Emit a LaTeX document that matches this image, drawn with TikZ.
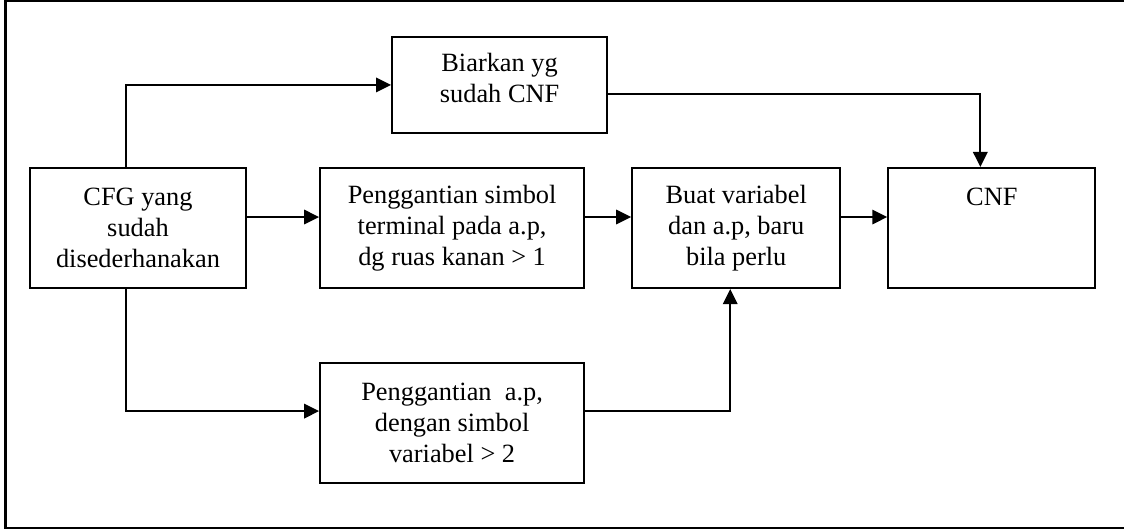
\documentclass[tikz,border=0pt]{standalone}
\usepackage{fontspec}
\setmainfont{Liberation Serif}
\usetikzlibrary{arrows.meta,positioning}

\begin{document}
\begin{tikzpicture}[
 node distance=0.92cm and 0.92cm,
 every node/.style={font=\fontsize{15}{17.6}\selectfont,align=center},
 box/.style={draw,line width=1.2pt,minimum height=2.4cm,inner sep=2pt},
 arrow/.style={-{Triangle[length=0.3cm,width=0.29cm]},line width=1pt}
]
\useasboundingbox (-2.76,-6.02) rectangle (19.72,4.56);
% frame, its right side lies past the page
\draw[line width=1.3pt] (20.2,4.54) -- (-2.65,4.54) -- (-2.65,-6.0) -- (20.2,-6.0);
\node[box,minimum width=4.32cm] (cfg) {CFG yang\\sudah\\disederhanakan};
\node[box,minimum width=5.28cm,right=1.44cm of cfg] (term) {Penggantian simbol\\terminal pada a.p,\\dg ruas kanan > 1};
\node[box,minimum width=4.16cm,right=of term] (buat) {Buat variabel\\dan a.p, baru\\bila perlu};
\node[box,minimum width=4.14cm,right=of buat] (cnf) {CNF\\~\\~};
\node[box,minimum width=4.3cm,minimum height=1.92cm,text depth=0.3cm,above=0.66cm of term,xshift=0.95cm] (biar) {Biarkan yg\\sudah CNF};
\node[box,minimum width=5.28cm,below=1.46cm of term] (var) {Penggantian~~a.p,\\dengan simbol\\variabel > 2};
\draw[arrow] ([yshift=0.22cm]cfg.east) -- ([yshift=0.22cm]term.west);
\draw[arrow] ([yshift=0.22cm]term.east) -- ([yshift=0.22cm]buat.west);
\draw[arrow] ([yshift=0.22cm]buat.east) -- ([yshift=0.22cm]cnf.west);
\draw[arrow] ([xshift=-0.24cm]cfg.north) |- (biar.west);
\draw[arrow] ([xshift=-0.24cm]cfg.south) |- ([yshift=0.24cm]var.west);
\draw[arrow] ([yshift=-0.18cm]biar.east) -| ([xshift=-0.23cm]cnf.north);
\draw[arrow] ([yshift=0.24cm]var.east) -| ([xshift=-0.12cm]buat.south);
\end{tikzpicture}
\end{document}
